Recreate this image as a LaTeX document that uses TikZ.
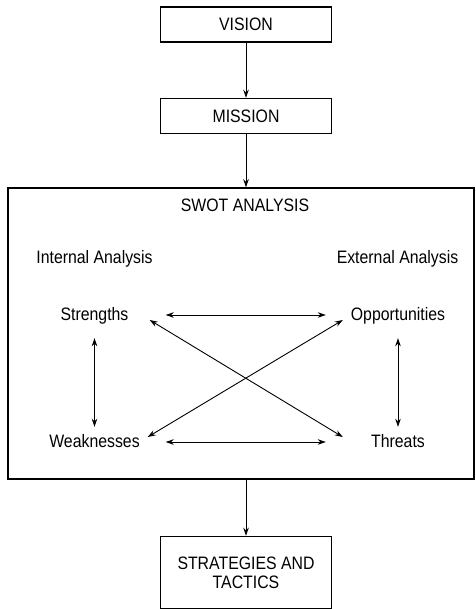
\documentclass[tikz,border=0pt]{standalone}
\usepackage{fontspec}
\setmainfont{Liberation Sans}[FakeStretch=0.88]
\usetikzlibrary{positioning,arrows.meta}

\begin{document}
\begin{tikzpicture}[x=1pt,y=-1pt,>={Stealth[length=8pt,width=5.5pt]},every node/.style={font=\fontsize{18}{19}\selectfont},box/.style={draw,line width=1.5pt,minimum width=171pt,minimum height=35pt,align=center},item/.style={minimum width=100pt,minimum height=24pt,text height=13pt,text depth=0pt,inner sep=0pt},link/.style={<->,line width=0.9pt}]
\useasboundingbox (0,0) rectangle (475,609);
\node[box] (vision) at (246,24.5) {VISION};
\node[box,below=55pt of vision] (mission) {MISSION};
\node[draw,line width=1.5pt,minimum width=466pt,minimum height=291pt] (swot) at (241,333.5) {};
\coordinate (swotout) at (mission |- swot.south);
\node[box,minimum height=72pt,below=56pt of swotout] (strategies) {STRATEGIES AND\\TACTICS};
\node[item] (title) at (245,205) {SWOT ANALYSIS};
\node[item] (internal) at (94.5,257) {Internal Analysis};
\node[item] (external) at (397.5,257) {External Analysis};
\node[item] (strengths) at (94.5,313.5) {Strengths};
\node[item] (opportunities) at (398,313.5) {Opportunities};
\node[item] (weaknesses) at (94.5,441) {Weaknesses};
\node[item] (threats) at (398,441) {Threats};
\draw[->,line width=0.9pt] (vision) -- (mission);
\draw[->,line width=0.9pt] (mission) -- (mission |- swot.north);
\draw[->,line width=0.9pt] (swotout) -- (strategies);
\draw[link] ([xshift=21pt,yshift=-1.5pt]strengths.east) -- ([xshift=-22pt,yshift=-1.5pt]opportunities.west);
\draw[link] ([xshift=21pt,yshift=-1pt]weaknesses.east) -- ([xshift=-22pt,yshift=-1pt]threats.west);
\draw[link] ([yshift=-12.5pt]strengths.south) -- ([yshift=2pt]weaknesses.north);
\draw[link] ([yshift=-12.5pt]opportunities.south) -- ([yshift=2pt]threats.north);
\draw[link] ([xshift=5pt,yshift=-6.5pt]strengths.east) -- ([xshift=-5pt,yshift=4pt]threats.west);
\draw[link] ([xshift=3pt,yshift=4pt]weaknesses.east) -- ([xshift=-5pt,yshift=-6.5pt]opportunities.west);
\end{tikzpicture}
\end{document}
